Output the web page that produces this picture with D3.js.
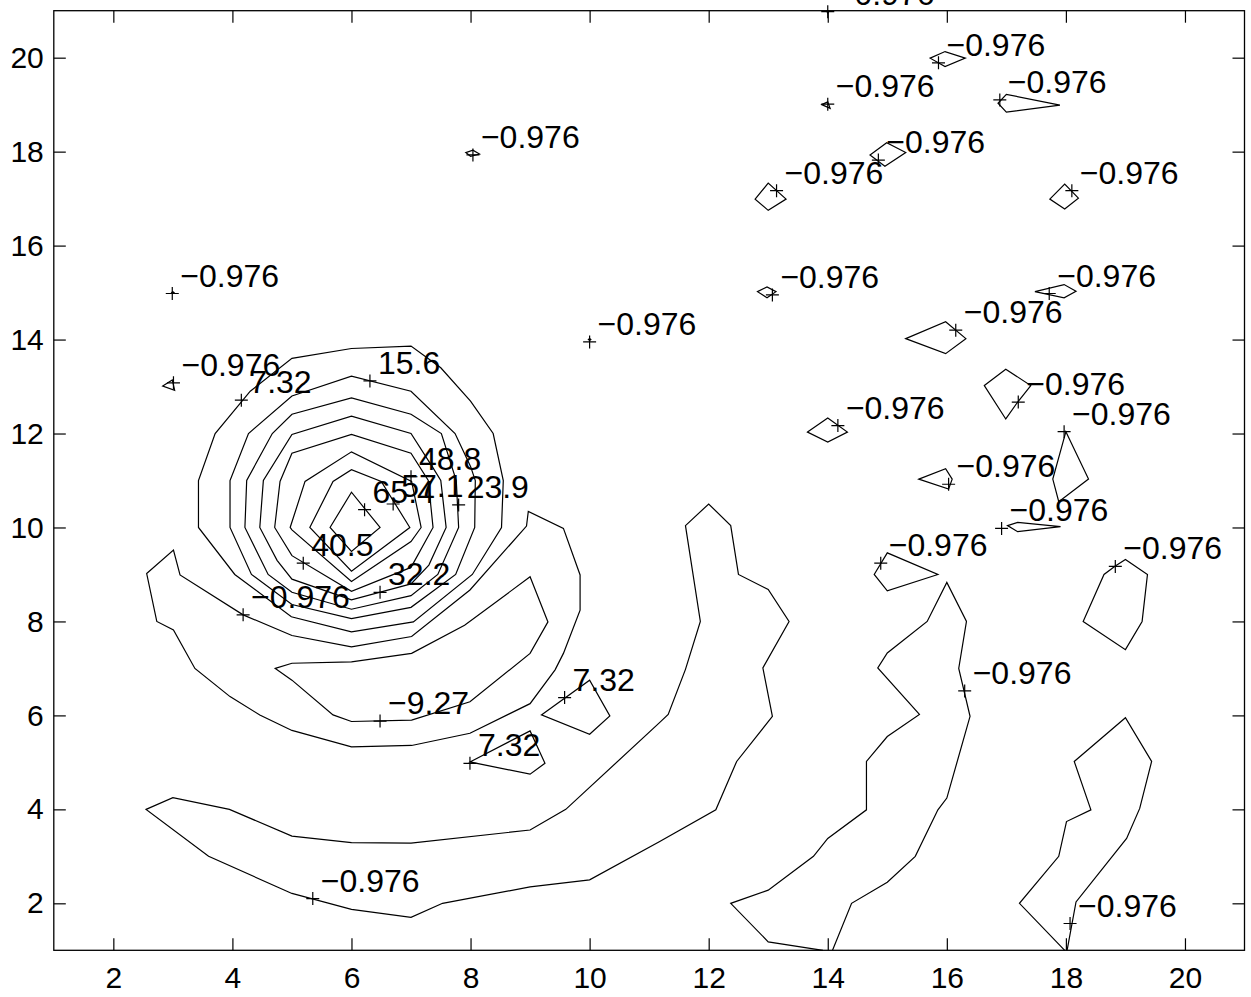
<!DOCTYPE html>
<html>
<head>
<meta charset="utf-8">
<script src="https://cdn.jsdelivr.net/npm/d3@7"></script>
<style>
  body { margin: 0; background: #fff; }
  text { font-family: "Liberation Sans", Arial, Helvetica, sans-serif; }
</style>
</head>
<body>
<div id="chart"></div>
<script>
//------------------------------------------ data ----------------------------------------------------
const xTicks = [2, 4, 6, 8, 10, 12, 14, 16, 18, 20];
const yTicks = [2, 4, 6, 8, 10, 12, 14, 16, 18, 20];

// closed rings round the peak near (6,10), outer to inner
const ringLevels = [7.32, 15.6, 23.9, 32.2, 40.5, 48.8, 57.1, 65.4];
const ringPaths = [
  [[3.43,10],[3.43,11],[3.71,12],[4.3,12.9],[5,13.6],[6,13.81],[7,13.86],[7.5,13.4],[8,12.69],[8.38,12],[8.55,11],[8.52,10],[8.03,9],[7.04,7.99],[6,7.78],[4.99,8.1],[4.04,9]],
  [[3.96,10],[3.96,11],[4.27,12],[5,12.8],[6,13.22],[7,12.9],[7.74,12],[8,11.3],[8.08,11],[8.07,10],[7.75,9],[7,8.3],[6,8.06],[5,8.36],[4.32,9]],
  [[4.21,10],[4.24,11],[4.67,12],[5,12.41],[6,12.76],[7,12.41],[7.51,12],[7.76,11],[7.8,10],[7.45,9],[7,8.55],[6,8.26],[5,8.62],[4.6,9]],
  [[4.46,10],[4.52,11],[5,11.98],[6,12.37],[7,12.0],[7.37,11.27],[7.5,11],[7.59,10],[7.3,9.2],[7,8.8],[6,8.46],[5,8.9],[4.75,9.3]],
  [[4.71,10],[4.8,10.98],[5,11.58],[6,11.98],[7,11.58],[7.29,11],[7.37,10],[7,9.15],[6,8.64],[5,9.4]],
  [[4.97,10],[5.22,10.98],[6,11.61],[7.01,10.98],[7.17,10],[7,9.7],[6,8.85],[5,9.95]],
  [[5.30,10],[5.69,10.98],[6,11.23],[6.5,10.98],[6.98,10],[6,9.07]],
  [[5.64,10],[6,10.75],[6.48,10],[6,9.49]]
];

// the trough band under the peak and the -9.27 hole inside it
const troughBand = [[2.56,9.02],[3.01,9.52],[3.12,8.99],[4.18,8.14],[5.0,7.7],[6.0,7.46],[7.01,7.68],[7.99,8.67],[8.94,10.03],[8.97,10.34],
  [9.56,9.98],[9.84,8.99],[9.84,8.24],[9.56,7.32],[9.42,6.97],[9.0,6.25],[7.99,5.62],[7.01,5.36],[6.0,5.33],[5.0,5.68],[4.46,6.01],[3.96,6.4],[3.37,7.0],[3.01,7.82],[2.73,8.0]];
const troughHole = [[4.72,7.0],[5.0,7.11],[6.0,7.14],[7.01,7.32],[7.9,7.92],[9.0,8.95],[9.3,7.99],[9.0,7.32],[7.99,6.29],[7.01,5.9],[6.0,5.87],[5.69,6.01],[5.0,6.75]];

// long crescent in the lower left
const lowCrescent = [[2.55,4.0],[3.0,4.25],[3.95,4.0],[5.0,3.43],[6.0,3.29],[7.0,3.28],[9.0,3.56],[9.6,4.0],[11.17,5.84],[11.32,6.02],[11.61,6.98],[11.86,8.0],[11.61,10.04],[12.0,10.5],
  [12.37,10.04],[12.5,9.0],[13.0,8.68],[13.35,8.0],[12.91,7.01],[13.07,5.98],[12.47,5.02],[12.12,3.99],[11.17,3.31],[10.0,2.5],[9.0,2.35],[7.53,2.0],[7.0,1.7],[6.0,1.87],[5.0,2.21],[3.6,3.0]];

// strips that run into the bottom edge (open)
const midStrip = [[13.92,1.0],[13.0,1.18],[12.37,2.0],[13.0,2.28],[13.76,3.0],[14.0,3.38],[14.65,3.99],[14.65,5.02],[15.0,5.55],[15.54,6.02],[14.84,7.01],[15.0,7.33],[15.67,8.0],[16.0,8.83],
  [16.33,8.0],[16.2,7.0],[16.39,5.98],[16.0,4.24],[15.85,3.99],[15.47,3.0],[15.0,2.45],[14.4,2.0],[14.08,1.0]];
const rightStrip = [[17.98,1.0],[17.22,2.0],[17.88,3.0],[18.01,3.74],[18.42,3.99],[18.14,5.02],[19.0,5.95],[19.44,5.02],[19.24,4.02],[19.02,3.38],[18.17,2.03],[18.02,1.0]];
const topEdgeBit = [[13.98,21],[14.0,20.95],[14.02,21]];

// the two small 7.32 islands
const smallPeaks = [
  [[9.19,6.01],[10.0,6.75],[10.34,5.99],[10.0,5.6]],
  [[7.99,5.01],[9.0,5.67],[9.25,4.98],[9.0,4.75]]
];

// small -0.976 islands
const islands = [
  [[14.78,9.0],[15.0,9.46],[15.85,9.0],[15.0,8.65]],
  [[17.02,10.04],[17.19,10.11],[17.91,10.02],[17.19,9.91]],
  [[18.83,9.18],[19.0,9.32],[19.37,9.0],[19.28,8.0],[19.0,7.4],[18.29,8.0],[18.64,9.0]],
  [[18.0,12.04],[18.38,11.03],[17.88,10.55],[17.78,11.03]],
  [[15.53,11.03],[15.98,11.25],[16.09,11.03],[16.03,10.82]],
  [[13.66,12.03],[14.0,12.33],[14.33,12.03],[14.0,11.82]],
  [[16.63,13.02],[16.99,13.37],[17.41,13.02],[17.19,12.67],[16.99,12.31]],
  [[15.31,14.02],[15.98,14.38],[16.32,14.02],[15.98,13.7]],
  [[17.48,15.02],[17.97,15.17],[18.17,15.03],[17.97,14.89]],
  [[12.82,15.02],[12.98,15.12],[13.13,15.02],[12.98,14.89]],
  [[15.72,19.99],[15.97,20.13],[16.31,19.99],[15.97,19.81]],
  [[13.9,19.0],[14.0,19.06],[14.04,18.92]],
  [[16.86,19.03],[17.0,19.22],[17.9,18.99],[17.0,18.84]],
  [[14.71,17.93],[14.99,18.19],[15.31,17.98],[14.96,17.69]],
  [[12.78,16.99],[13.0,17.33],[13.3,16.99],[13.0,16.75]],
  [[17.73,16.99],[17.98,17.31],[18.21,17.01],[17.98,16.78]],
  [[7.92,17.98],[8.04,18.03],[8.15,17.95],[8.0,17.9]],
  [[2.83,13.01],[2.99,13.14],[3.03,12.92]],
  [[2.98,15.0],[3.0,15.02],[3.02,15.0],[3.0,14.98]],
  [[9.98,14.0],[10.0,14.02],[10.02,14.0],[10.0,13.98]]
];

// clabel marks: [x, y, text]
const labelMarks = [
  [6.22,10.38,"65.4"], [6.7,10.5,"57.1"], [7.0,11.08,"48.8"], [5.19,9.24,"40.5"],
  [6.48,8.62,"32.2"], [7.8,10.48,"23.9"], [6.31,13.12,"15.6"], [4.15,12.71,"7.32"],
  [4.18,8.14,"\u22120.976"], [6.48,5.88,"\u22129.27"], [9.58,6.38,"7.32"], [7.99,4.98,"7.32"],
  [5.35,2.1,"\u22120.976"], [16.3,6.52,"\u22120.976"], [18.07,1.57,"\u22120.976"],
  [14.89,9.24,"\u22120.976"], [16.92,9.98,"\u22120.976"], [18.83,9.17,"\u22120.976"],
  [17.97,12.04,"\u22120.976"], [16.03,10.92,"\u22120.976"], [14.17,12.17,"\u22120.976"],
  [17.2,12.67,"\u22120.976"], [16.15,14.2,"\u22120.976"], [17.72,14.98,"\u22120.976"],
  [13.07,14.95,"\u22120.976"], [15.86,19.89,"\u22120.976"], [14.0,19.01,"\u22120.976"],
  [16.89,19.1,"\u22120.976"], [14.85,17.82,"\u22120.976"], [13.14,17.17,"\u22120.976"],
  [18.1,17.17,"\u22120.976"], [14.0,20.98,"\u22120.976"], [8.04,17.93,"\u22120.976"],
  [2.99,14.98,"\u22120.976"], [3.01,13.08,"\u22120.976"], [10.0,13.95,"\u22120.976"]
];

//------------------------------------------ layout ----------------------------------------------------
const W = 1251, H = 997;
const plotLeft = 53.8, plotRight = 1244.5, plotTop = 10.7, plotBottom = 950.3;
const tickFontPx = 30;
const labelFontPx = 32;

const svg = d3.select("#chart")
  .append("svg")
    .attr("width", W)
    .attr("height", H)
    .style("display", "block");

const x = d3.scaleLinear().domain([1, 21]).range([plotLeft, plotRight]);
const y = d3.scaleLinear().domain([1, 21]).range([plotBottom, plotTop]);

const closedLine = d3.line().x(d => x(d[0])).y(d => y(d[1])).curve(d3.curveLinearClosed);
const openLine = d3.line().x(d => x(d[0])).y(d => y(d[1]));

//------------------------------------------ contours ----------------------------------------------------
const g = svg.append("g")
  .attr("fill", "none")
  .attr("stroke", "#000")
  .attr("stroke-width", 1.2)
  .attr("stroke-linejoin", "miter");

const closedShapes = ringPaths.concat([troughBand, troughHole, lowCrescent], smallPeaks, islands);
g.selectAll("path.closed")
  .data(closedShapes)
  .enter()
  .append("path")
    .attr("class", "closed")
    .attr("d", closedLine);

g.selectAll("path.open")
  .data([midStrip, rightStrip, topEdgeBit])
  .enter()
  .append("path")
    .attr("class", "open")
    .attr("d", openLine);

//------------------------------------------ axes ----------------------------------------------------
function styleAxis(sel) {
  sel.select(".domain").remove();
  sel.selectAll(".tick line").attr("stroke", "#000").attr("stroke-width", 1.2);
  sel.selectAll(".tick text").attr("fill", "#000").style("font-size", tickFontPx + "px")
     .style("font-family", '"Liberation Sans", Arial, sans-serif');
}

svg.append("g")
  .attr("transform", "translate(0," + plotBottom + ")")
  .call(d3.axisBottom(x).tickValues(xTicks).tickSizeInner(-12).tickSizeOuter(0).tickPadding(16))
  .call(styleAxis);

svg.append("g")
  .attr("transform", "translate(0," + plotTop + ")")
  .call(d3.axisTop(x).tickValues(xTicks).tickSizeInner(-12).tickSizeOuter(0).tickFormat(""))
  .call(styleAxis);

svg.append("g")
  .attr("transform", "translate(" + plotLeft + ",0)")
  .call(d3.axisLeft(y).tickValues(yTicks).tickSizeInner(-12).tickSizeOuter(0).tickPadding(10))
  .call(styleAxis);

svg.append("g")
  .attr("transform", "translate(" + plotRight + ",0)")
  .call(d3.axisRight(y).tickValues(yTicks).tickSizeInner(-12).tickSizeOuter(0).tickFormat(""))
  .call(styleAxis);

svg.append("rect")
  .attr("x", plotLeft).attr("y", plotTop)
  .attr("width", plotRight - plotLeft).attr("height", plotBottom - plotTop)
  .attr("fill", "none").attr("stroke", "#000").attr("stroke-width", 1.3);

//------------------------------------------ contour labels ----------------------------------------------------
const marks = svg.append("g").selectAll("g")
  .data(labelMarks)
  .enter()
  .append("g")
    .attr("transform", d => "translate(" + x(d[0]) + "," + y(d[1]) + ")");

marks.append("path")
  .attr("d", "M-6.5,0H6.5M0,-6.5V6.5")
  .attr("stroke", "#000")
  .attr("stroke-width", 1.2);

marks.append("text")
  .attr("x", 8)
  .attr("y", -7)
  .style("font-size", labelFontPx + "px")
  .attr("fill", "#000")
  .text(d => d[2]);
</script>
</body>
</html>
